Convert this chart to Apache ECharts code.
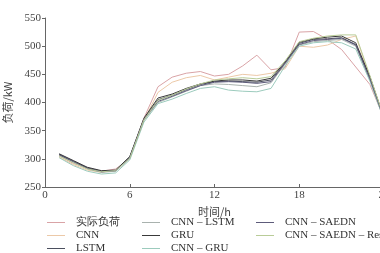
<!DOCTYPE html>
<html>
<head>
<meta charset="utf-8">
<script src="https://cdn.jsdelivr.net/npm/echarts@6/dist/echarts.min.js"></script>
<style>
  html, body { margin: 0; padding: 0; background: #fff; }
  #chart { width: 380px; height: 253px; }
</style>
</head>
<body>
<div id="chart"></div>
<script>
  // 时间 (h)
  var hours = [1,2,3,4,5,6,7,8,9,10,11,12,13,14,15,16,17,18,19,20,21,22,23,24];
  var yTicks = [250, 300, 350, 400, 450, 500, 550];
  var xTicks = [0, 6, 12, 18, 24];

  // 各模型负荷 (kW)
  var actual    = [305,292,283,278,282,300,372,428,445,452,455,447,450,465,484,458,462,525,526,512,494,463,432,372];
  var cnn       = [303,290,280,276,280,302,368,418,436,444,448,440,445,450,448,452,460,500,498,502,512,518,445,370];
  var lstm      = [308,296,284,278,279,303,370,405,413,423,432,437,438,437,436,440,470,505,512,513,515,503,445,372];
  var cnnLstm   = [306,294,282,276,278,300,368,400,410,420,430,433,432,430,428,435,468,502,508,510,512,500,440,370];
  var gru       = [309,297,285,279,280,304,372,408,415,425,433,438,440,440,438,443,472,507,513,516,518,506,446,372];
  var cnnGru    = [302,288,278,273,275,298,365,398,406,416,425,428,422,420,419,425,465,500,506,508,506,495,438,369];
  var saedn     = [307,295,283,277,279,302,370,402,411,421,430,436,437,436,434,437,470,503,510,512,514,502,442,371];
  var saednRes  = [305,293,282,277,279,301,369,404,413,424,433,440,442,444,442,446,474,508,514,518,520,520,448,373];

  var names = ['实际负荷', 'CNN', 'LSTM', 'CNN – LSTM', 'GRU', 'CNN – GRU', 'CNN – SAEDN', 'CNN – SAEDN – Res'];
  var values = [actual, cnn, lstm, cnnLstm, gru, cnnGru, saedn, saednRes];
  var colors = ['#d9a3a6', '#ecc9a8', '#4b4f5e', '#a9b2ae', '#3a3a3a', '#9ccbbd', '#5d5b7a', '#b9cc98'];

  function pairs(arr) {
    return hours.map(function (h, i) { return [h, arr[i]]; });
  }

  var series = names.map(function (n, i) {
    return {
      name: n,
      type: 'line',
      symbol: 'none',
      data: pairs(values[i]),
      lineStyle: { width: 1, color: colors[i] },
      itemStyle: { color: colors[i] },
      z: 2
    };
  });

  var txt = { fontFamily: 'Liberation Serif', fontSize: 11, color: '#444' };

  function legendCol(left, data) {
    return {
      orient: 'vertical',
      left: left,
      top: 217,
      height: 60,
      padding: 0,
      icon: 'rect',
      itemWidth: 18,
      itemHeight: 1,
      itemGap: 2,
      data: data,
      textStyle: { fontFamily: 'Liberation Serif', fontSize: 11, color: '#333', padding: [0, 0, 0, 6] }
    };
  }

  var myChart = echarts.init(document.getElementById('chart'));
  var option = {
    animation: false,
    grid: { left: 45, top: 18, width: 339, height: 169, outerBoundsMode: 'none', containLabel: false },
    xAxis: {
      type: 'value',
      min: 0,
      max: 24,
      interval: 6,
      name: '时间/h',
      nameLocation: 'middle',
      nameGap: 8,
      nameTextStyle: { fontFamily: 'Noto Sans CJK SC', fontSize: 11, color: '#444' },
      axisLine: { lineStyle: { color: '#666' } },
      axisTick: { show: true, inside: true, length: 3, lineStyle: { color: '#666' } },
      axisLabel: Object.assign({ margin: 3 }, txt),
      splitLine: { show: false }
    },
    yAxis: {
      type: 'value',
      min: 250,
      max: 550,
      interval: 50,
      name: '负荷/kW',
      nameLocation: 'middle',
      nameGap: 26,
      nameTextStyle: { fontFamily: 'Noto Sans CJK SC', fontSize: 11, color: '#444' },
      axisLine: { show: true, lineStyle: { color: '#666' } },
      axisTick: { show: true, length: 3, lineStyle: { color: '#666' } },
      axisLabel: Object.assign({ margin: 4 }, txt),
      splitLine: { show: false }
    },
    legend: [
      legendCol(47, names.slice(0, 3)),
      legendCol(142, names.slice(3, 6)),
      legendCol(256, names.slice(6, 8))
    ],
    series: series
  };
  myChart.setOption(option);
</script>
</body>
</html>
